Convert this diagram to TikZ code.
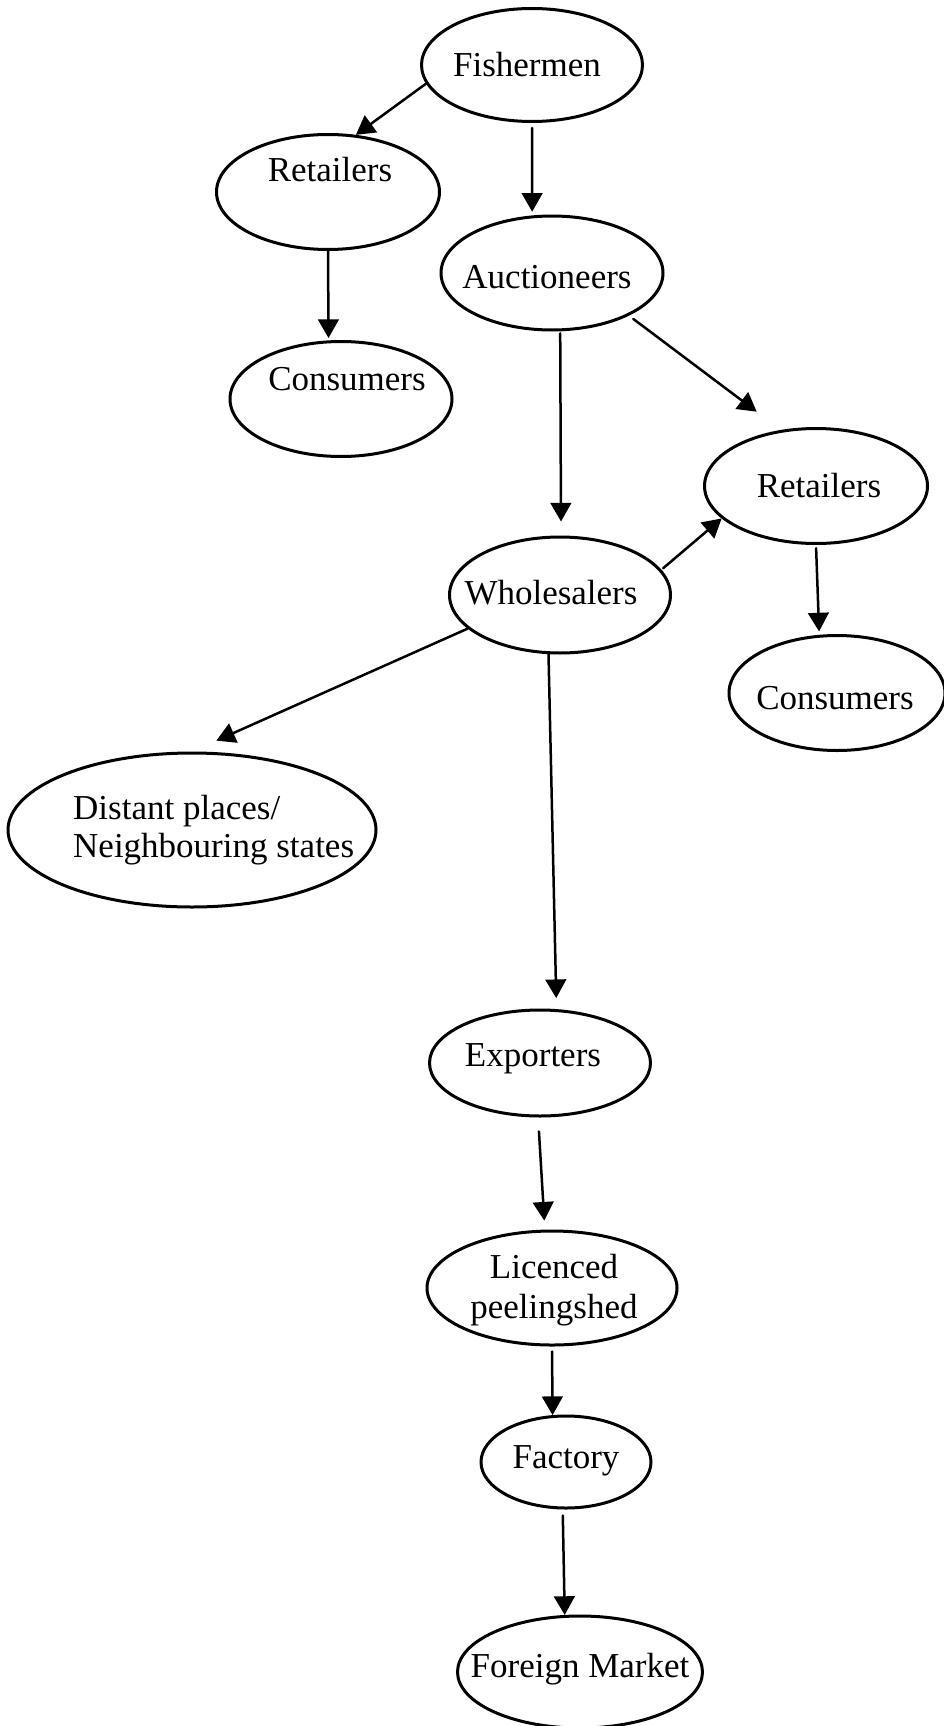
\documentclass[tikz,border=0pt]{standalone}
\usepackage{fontspec}
\setmainfont{Liberation Serif}
\usetikzlibrary{arrows.meta,shapes.geometric}

\begin{document}
\begin{tikzpicture}[line cap=round,line join=round,>={Triangle[length=5.6pt,width=6.2pt]},x=0.3pt,y=-0.3pt,
		oval/.style={ellipse, draw, line width=0.9pt, inner sep=0pt},
		fleche/.style={->, line width=0.75pt},
		every label/.style={font=\fontsize{10.5}{11}\selectfont, align=center}]
			\useasboundingbox (0,0) rectangle (944,1726);
			% Etage 1
			\node[oval, minimum width=66.3pt, minimum height=33.9pt, label={[xshift=-1.5pt]center:Fishermen}] (fish) at (532,65) {};
			% Etage 2
			\node[oval, minimum width=66.9pt, minimum height=34.5pt, label={[xshift=0.6pt,yshift=6.6pt]center:Retailers}] (retl) at (328,192) {};
			\node[oval, minimum width=66.6pt, minimum height=34.2pt, label={[xshift=-1.5pt,yshift=-1.2pt]center:Auctioneers}] (auct) at (552,273) {};
			\node[oval, minimum width=66.6pt, minimum height=34.5pt, label={[xshift=1.8pt,yshift=5.9pt]center:Consumers}] (consl) at (341,399) {};
			% Etage 3
			\node[oval, minimum width=66.9pt, minimum height=34.5pt, label={[xshift=0.9pt]center:Retailers}] (retr) at (816,486) {};
			\node[oval, minimum width=66.3pt, minimum height=34.8pt, label={[xshift=-2.7pt,yshift=0.6pt]center:Wholesalers}] (whole) at (560,595) {};
			\node[oval, minimum width=64.8pt, minimum height=34.5pt, label={[xshift=-0.6pt,yshift=-1.5pt]center:Consumers}] (consr) at (837,693) {};
			\node[oval, minimum width=110.4pt, minimum height=46.2pt, label={[xshift=6.5pt,align=left,font=\fontsize{10.5}{11.3}\selectfont]center:Distant places/\\Neighbouring states}] (dist) at (192,830) {};
			% Etage 4
			\node[oval, minimum width=66.3pt, minimum height=31.8pt, label={[xshift=-2.1pt,yshift=1.2pt]center:Exporters}] (expo) at (540,1063) {};
			\node[oval, minimum width=75pt, minimum height=34.2pt, label={[xshift=0.6pt,yshift=-0.6pt,font=\fontsize{10.5}{12.2}\selectfont]center:Licenced\\peelingshed}] (lic) at (552,1288) {};
			\node[oval, minimum width=51pt, minimum height=27.6pt, label={[yshift=0.3pt]center:Factory}] (fac) at (566,1462) {};
			\node[oval, minimum width=73.5pt, minimum height=33.6pt, label={[yshift=0.9pt]center:Foreign Market}] (fm) at (580,1672) {};
			% fleches
			\draw[fleche] (fish.190) -- (retl.64);
			\draw[fleche, shorten <=1.5pt, shorten >=1.1pt] (fish.270) -- (auct.109);
			\draw[fleche, shorten >=0.7pt] (retl.270) -- (consl.102);
			\draw[fleche, shorten <=0.6pt, shorten >=4.2pt] (auct.278) -- (whole.89);
			\draw[fleche, shorten <=1.6pt, shorten >=9.1pt] (auct.331) -- (retr.122);
			\draw[fleche, shorten <=0.7pt] (whole.14.5) -- (retr.199);
			\draw[fleche, shorten <=1pt, shorten >=1pt] (retr.270) -- (consr.107);
			\draw[fleche, shorten >=8pt] (whole.200) -- (dist.90);
			\draw[fleche, shorten >=3.3pt] (whole.259) -- (expo.73);
			\draw[fleche, shorten <=4.2pt, shorten >=2.7pt] (expo.268) -- (lic.97);
			\draw[fleche, shorten <=1.5pt] (lic.270) -- (fac.106);
			\draw[fleche, shorten <=1.8pt] (fac.266) -- (fm.105);
	\end{tikzpicture}
\end{document}
